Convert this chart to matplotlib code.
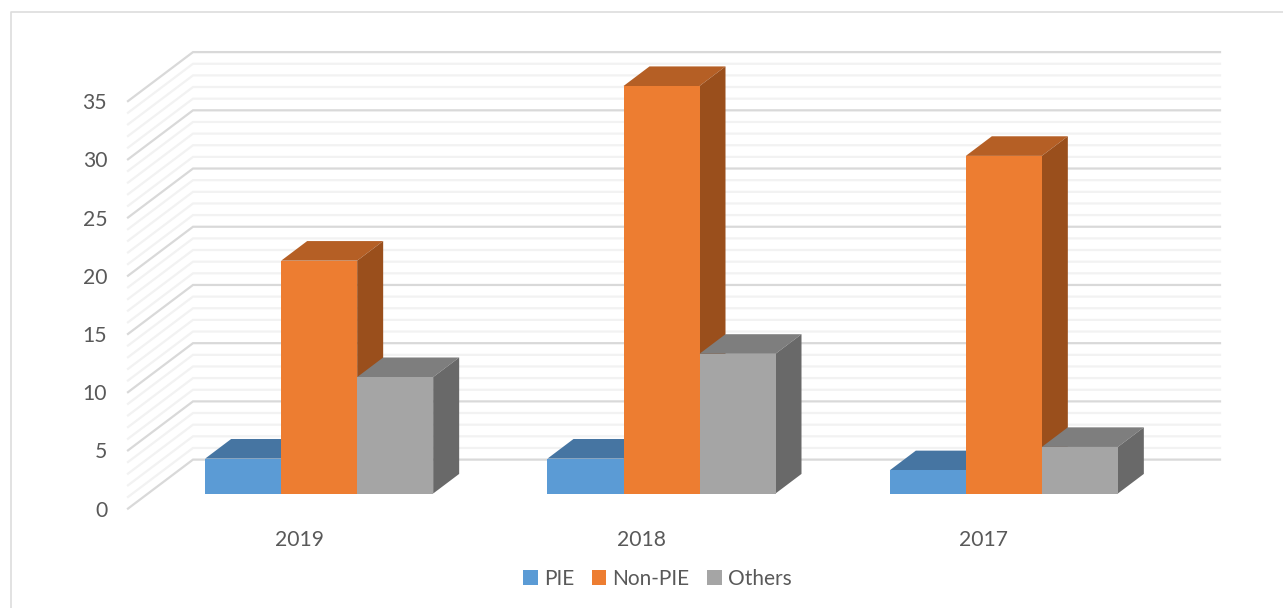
import numpy as np
import matplotlib.pyplot as plt
from matplotlib.lines import Line2D
from matplotlib.patches import Polygon

years = ["2019", "2018", "2017"]
pie = [3, 3, 2]
non_pie = [20, 35, 29]
others = [10, 12, 4]
major_ticks = [0, 5, 10, 15, 20, 25, 30, 35]

plt.rcParams['font.family'] = ['Lato', 'DejaVu Sans']
TEXT = "#595959"

fig = plt.figure(figsize=(12.83, 6.08), dpi=100)
# axes = front plane of the 3d box, in pixels of the 1283x608 picture
ax = fig.add_axes([128 / 1283, 99.4 / 608, 1027 / 1283, 407.5 / 608])
ax.set_xlim(-0.5, 2.5)
ax.set_ylim(0, 35)
for s in ax.spines.values():
    s.set_visible(False)

# depth of the box in data units
DX = 65 / 342.33
DY = 49 / (407.5 / 35)
width = 76 / 342.33

# walls
for v in np.arange(0, 36):
    if v in major_ticks:
        col, z = "#D9D9D9", 2
    else:
        col, z = "#F2F2F2", 1
    ax.plot([-0.5, -0.5 + DX, 2.5 + DX], [v, v + DY, v + DY], color=col, lw=1.6,
            clip_on=False, zorder=z, solid_joinstyle="miter")

series = [
    ("PIE", pie, "#5B9BD5", "#4675A2", "#3E6A94", -1),
    ("Non-PIE", non_pie, "#ED7D31", "#B55F25", "#9A4F1C", 0),
    ("Others", others, "#A5A5A5", "#7E7E7E", "#696969", 1),
]

d0 = 0.3077  # bar front, fraction of box depth
d1 = 0.7077  # bar back
handles = []
x = np.arange(len(years))
zo = 5
for label, vals, front, top, side, off in series:
    xs = x + off * width + d0 * DX
    base = d0 * DY
    ddx = (d1 - d0) * DX
    ddy = (d1 - d0) * DY
    for xi, v in zip(xs, vals):
        r = xi + width / 2
        l = xi - width / 2
        ax.add_patch(Polygon([(l, base + v), (r, base + v), (r + ddx, base + v + ddy), (l + ddx, base + v + ddy)],
                             closed=True, fc=top, ec="none", clip_on=False, zorder=zo))
        ax.add_patch(Polygon([(r, base), (r + ddx, base + ddy), (r + ddx, base + v + ddy), (r, base + v)],
                             closed=True, fc=side, ec="none", clip_on=False, zorder=zo))
    b = ax.bar(xs, vals, width, bottom=base, color=front, label=label, clip_on=False, zorder=zo + 1)
    handles.append(b)
    zo += 2

ax.set_xticks(x)
ax.set_xticklabels(years)
ax.set_yticks(major_ticks)
ax.tick_params(axis="x", length=0, pad=15.5, labelsize=15.2, labelcolor=TEXT)
ax.tick_params(axis="y", length=0, pad=15, labelsize=15.2, labelcolor=TEXT)

fig.legend(handles=handles, loc="center", bbox_to_anchor=(657.5 / 1283, 1 - 579 / 608), ncol=3,
           frameon=False, fontsize=15, labelcolor=TEXT, handlelength=0.7, handleheight=0.7,
           handletextpad=0.3, columnspacing=0.85)

# outer frame, only top and left show
fig.add_artist(Line2D([10.5 / 1283, 10.5 / 1283, 1], [0, 1 - 12 / 608, 1 - 12 / 608], color="#DDDDDD", lw=1.2))

fig.savefig("out.png", dpi=100)
